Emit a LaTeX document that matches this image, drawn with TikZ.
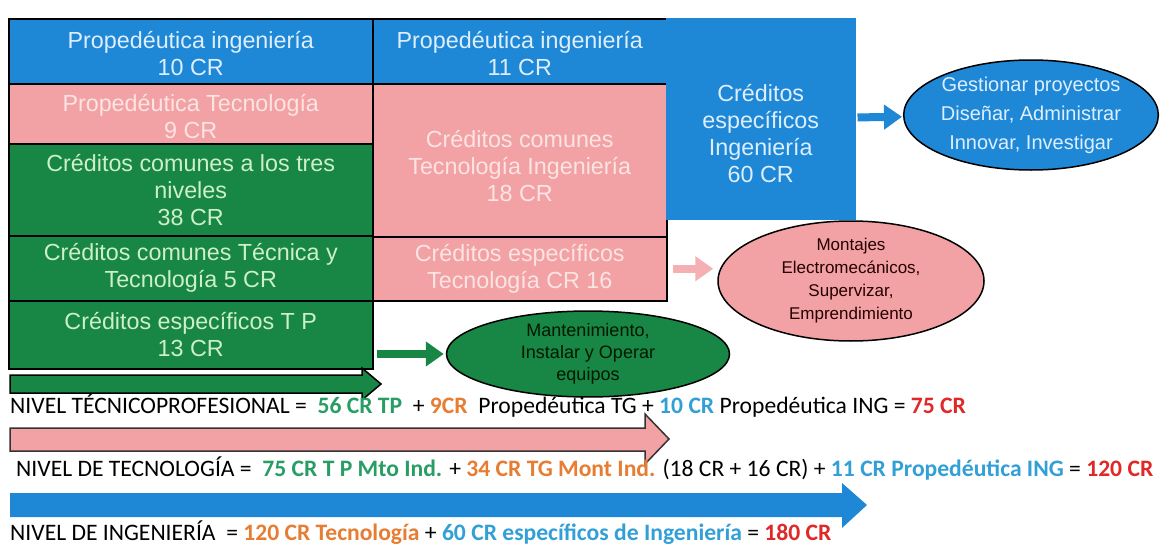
\documentclass[tikz,border=0pt]{standalone}
\usepackage{fontspec}
\setmainfont{Carlito}
\newfontfamily\arialfont{Liberation Sans}
\usetikzlibrary{shapes.geometric,arrows.meta}

\definecolor{azul}{RGB}{30,136,214}
\definecolor{rosa}{RGB}{242,162,164}
\definecolor{verde}{RGB}{24,134,68}
\definecolor{tazul}{RGB}{222,238,255}
\definecolor{trosa}{RGB}{252,228,228}
\definecolor{tverde}{RGB}{205,240,200}
\definecolor{nverde}{RGB}{40,158,100}
\definecolor{nnaranja}{RGB}{230,125,50}
\definecolor{nazul}{RGB}{50,160,215}
\definecolor{nrojo}{RGB}{225,40,40}

\tikzset{
  caja/.style={draw=black,line width=1.5pt,anchor=north west,inner sep=0pt,align=center,
    font=\arialfont\fontsize{23.3}{27}\selectfont},
  elipse/.style={ellipse,draw=black,line width=1.5pt,inner sep=0pt,align=center},
  nivel/.style={anchor=west,inner sep=0pt,font=\fontsize{23.6}{26}\selectfont}
}

\begin{document}
\begin{tikzpicture}[x=1pt,y=-1pt]
  \useasboundingbox (0,0) rectangle (1161,546);

  \begin{scope}[every node/.style={caja}]
    % primera columna
    \node[fill=azul,text=tazul,minimum width=364pt,minimum height=65pt] (pi10) at (8,18) {\rule{0pt}{22pt}Propedéutica ingeniería\\10 CR};
    \node[fill=rosa,text=trosa,minimum width=364pt,minimum height=60pt] (pt9) at (8,83) {\rule{0pt}{22pt}Propedéutica Tecnología\\9 CR};
    \node[fill=verde,text=tverde,minimum width=364pt,minimum height=92pt] (cc38) at (8,143) {Créditos comunes a los tres\\niveles\\38 CR};
    \node[fill=verde,text=tverde,minimum width=364pt,minimum height=65pt] (ct5) at (8,235) {Créditos comunes Técnica y\\Tecnología 5 CR};
    \node[fill=verde,text=tverde,minimum width=364pt,minimum height=68pt] (ce13) at (8,300) {Créditos específicos T P\\13 CR};
    % segunda columna
    \node[fill=azul,text=tazul,minimum width=294pt,minimum height=65pt] (pi11) at (372,18) {\rule{0pt}{22pt}Propedéutica ingeniería\\11 CR};
    \node[fill=rosa,text=trosa,minimum width=294pt,minimum height=153pt] (ct18) at (372,83) {\rule{0pt}{28pt}Créditos comunes\\Tecnología Ingeniería\\18 CR};
    \node[fill=rosa,text=trosa,minimum width=294pt,minimum height=64pt] (ce16) at (372,236) {Créditos específicos\\Tecnología CR 16};
    % tercera columna
    \node[fill=azul,text=tazul,draw=azul,minimum width=188pt,minimum height=200pt] (ce60) at (666,18) {\rule{0pt}{46pt}Créditos\\específicos\\Ingeniería\\60 CR};
  \end{scope}

  \begin{scope}[every node/.style={elipse}]
    \node[fill=azul,text=tazul,minimum width=254pt,minimum height=110pt,
      font=\arialfont\fontsize{20}{29}\selectfont] (ingI) at (1031,115) {Gestionar proyectos\\Diseñar, Administrar\\Innovar, Investigar};
    \node[fill=rosa,text=black!85!red,minimum width=266pt,minimum height=106pt,
      font=\arialfont\fontsize{17}{23}\selectfont] (tecT) at (851,281) {Montajes\\Electromecánicos,\\Supervizar,\\Emprendimiento};
    \node[fill=verde,text=black!90!green,minimum width=283pt,minimum height=78pt,
      font=\arialfont\fontsize{18}{22}\selectfont] (tecP) at (588,354) {Mantenimiento,\\Instalar y Operar\\equipos};
  \end{scope}

  \begin{scope}[every edge/.style={draw,line width=8pt,-{Triangle[length=18pt,width=24pt]}}]
    \path (ce60) edge[draw=azul,shorten <=2pt,shorten >=1pt] (ingI);
    \path (ce16.east) edge[draw=rosa!85,shorten <=5pt,shorten >=4pt] (ce16.east -| tecT.west);
    \path (ce13.east |- tecP.west) edge[draw=verde,shorten <=3pt,shorten >=2pt] (tecP.west);
  \end{scope}

  % flechas de nivel
  \draw[fill=verde,line width=1.5pt] (10,375) -- (362,375) -- (362,368) -- (381,384) -- (362,400) -- (362,393) -- (10,393) -- cycle;
  \draw[fill=rosa,draw=black!80,line width=1.5pt] (10,428) -- (645,428) -- (645,414) -- (669,439) -- (645,464) -- (645,451) -- (10,451) -- cycle;
  \fill[azul] (10,493) -- (842,493) -- (842,483) -- (867,505) -- (842,528) -- (842,517) -- (10,517) -- cycle;

  \node[nivel] (nTP) at (10,406) {NIVEL TÉCNICOPROFESIONAL = \ \textbf{\color{nverde}56 CR TP} \ + \textbf{\color{nnaranja}9CR} \ Propedéutica TG + \textbf{\color{nazul}10 CR} Propedéutica ING = \textbf{\color{nrojo}75 CR}};
  \node[nivel] (nTG) at (16,468) {NIVEL DE TECNOLOGÍA = \ \textbf{\color{nverde}75 CR T P Mto Ind.} + \textbf{\color{nnaranja}34 CR TG Mont Ind.} (18 CR + 16 CR) + \textbf{\color{nazul}11 CR Propedéutica ING} = \textbf{\color{nrojo}120 CR}};
  \node[nivel] (nIN) at (10,533) {NIVEL DE INGENIERÍA \ = \textbf{\color{nnaranja}120 CR Tecnología} + \textbf{\color{nazul}60 CR específicos de Ingeniería} = \textbf{\color{nrojo}180 CR}};
\end{tikzpicture}
\end{document}
